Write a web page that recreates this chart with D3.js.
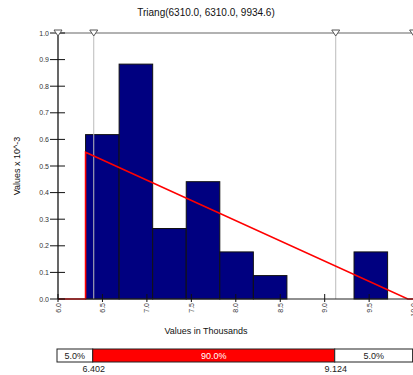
<!DOCTYPE html>
<html>
<head>
<meta charset="utf-8">
<script src="https://cdn.jsdelivr.net/npm/d3@7"></script>
<style>
  html, body { margin: 0; padding: 0; background: #fff; overflow: hidden; }
  svg { display: block; font-family: "Liberation Sans", Arial, sans-serif; }
</style>
</head>
<body>
<svg id="chart" width="413" height="375"></svg>
<script>
// Histogram of simulated values (in thousands) with fitted triangular density
const binStart = 6.31;
const binWidth = 0.3775;
const density = [0.618, 0.883, 0.265, 0.441, 0.177, 0.088, 0, 0, 0.177]; // x 10^-3
const triMin = 6.31, triMode = 6.31, triMax = 9.9346;
const xTicks = [6.0, 6.5, 7.0, 7.5, 8.0, 8.5, 9.0, 9.5, 10.0];
const yTicks = [0, 0.1, 0.2, 0.3, 0.4, 0.5, 0.6, 0.7, 0.8, 0.9, 1.0];
const limits = [6.402, 9.124];
const pctLabels = ["5.0%", "90.0%", "5.0%"];

const svg = d3.select("#chart");
const x = d3.scaleLinear().domain([6, 10]).range([58, 413.6]);
const y = d3.scaleLinear().domain([0, 1]).range([299, 33]);

// title
svg.append("text").attr("x", 206).attr("y", 16).attr("text-anchor", "middle")
  .attr("font-size", 10).attr("fill", "#111").text("Triang(6310.0, 6310.0, 9934.6)");

// top frame line
svg.append("line").attr("x1", x(6)).attr("x2", 413).attr("y1", y(1)).attr("y2", y(1))
  .attr("stroke", "#666").attr("stroke-width", 1.2);

// histogram bars
const bins = density.map((d, i) => ({ x0: binStart + i * binWidth, x1: binStart + (i + 1) * binWidth, v: d }));
svg.append("g").selectAll("rect").data(bins.filter(b => b.v > 0)).join("rect")
  .attr("x", b => x(b.x0)).attr("width", b => x(b.x1) - x(b.x0))
  .attr("y", b => y(b.v)).attr("height", b => y(0) - y(b.v))
  .attr("fill", "#000080").attr("stroke", "#111").attr("stroke-width", 1);

// percentile guide lines
svg.append("g").selectAll("line").data(limits).join("line")
  .attr("x1", d => x(d)).attr("x2", d => x(d)).attr("y1", y(1) + 3).attr("y2", y(0))
  .attr("stroke", "#bbb").attr("stroke-width", 1);

// triangular density curve
const peak = 2 / (triMax - triMin);
const curve = [[6.0, 0], [triMin, 0], [triMode, peak], [triMax, 0], [10, 0]];
svg.append("path").datum(curve)
  .attr("d", d3.line().x(d => x(d[0])).y(d => y(d[1])))
  .attr("fill", "none").attr("stroke", "#ff0000").attr("stroke-width", 1.6);

// axes lines
svg.append("line").attr("x1", x(6)).attr("x2", x(6)).attr("y1", y(1)).attr("y2", y(0))
  .attr("stroke", "#000").attr("stroke-width", 1.2);
svg.append("line").attr("x1", x(6)).attr("x2", 413).attr("y1", y(0)).attr("y2", y(0))
  .attr("stroke", "#222").attr("stroke-width", 1.2);

// y ticks and labels
const yg = svg.append("g");
yg.selectAll("line").data(yTicks).join("line")
  .attr("x1", 50).attr("x2", 65).attr("y1", d => y(d)).attr("y2", d => y(d))
  .attr("stroke", "#111").attr("stroke-width", 1);
yg.selectAll("text").data(yTicks).join("text")
  .attr("x", 49).attr("y", d => y(d) + 2.5).attr("text-anchor", "end")
  .attr("font-size", 7).attr("fill", "#333").text(d => d3.format(".1f")(d));

// x ticks and rotated labels
const xg = svg.append("g");
xg.selectAll("line").data(xTicks).join("line")
  .attr("x1", d => x(d)).attr("x2", d => x(d)).attr("y1", y(0) - 5).attr("y2", y(0) + 3)
  .attr("stroke", "#111").attr("stroke-width", 1);
xg.selectAll("text").data(xTicks).join("text")
  .attr("transform", d => `translate(${x(d) + 2.5},${y(0) + 4}) rotate(-90)`)
  .attr("text-anchor", "end").attr("font-size", 7).attr("fill", "#333")
  .text(d => d3.format(".1f")(d));

// limit markers on top line
const markers = [6.0, limits[0], limits[1], 10.0];
svg.append("g").selectAll("path").data(markers).join("path")
  .attr("d", d => `M${x(d) - 4},${y(1) - 3} L${x(d) + 4},${y(1) - 3} L${x(d)},${y(1) + 3} Z`)
  .attr("fill", "#fff").attr("stroke", "#555").attr("stroke-width", 1);

// axis titles
svg.append("text").attr("transform", "translate(20,166) rotate(-90)")
  .attr("text-anchor", "middle").attr("font-size", 9).attr("fill", "#111").text("Values x 10^-3");
svg.append("text").attr("x", 206).attr("y", 334).attr("text-anchor", "middle")
  .attr("font-size", 9).attr("fill", "#111").text("Values in Thousands");

// percentile band
const bandY = 349, bandH = 13;
const segs = [
  { a: 6.0, b: limits[0], fill: "#fff", col: "#222", label: pctLabels[0] },
  { a: limits[0], b: limits[1], fill: "#ff0000", col: "#fff", label: pctLabels[1] },
  { a: limits[1], b: 10.0, fill: "#fff", col: "#222", label: pctLabels[2] }
];
const band = svg.append("g");
band.selectAll("rect").data(segs).join("rect")
  .attr("x", d => x(d.a) - 1).attr("width", d => x(d.b) - x(d.a))
  .attr("y", bandY).attr("height", bandH)
  .attr("fill", d => d.fill).attr("stroke", "#222").attr("stroke-width", 1);
band.selectAll("text").data(segs).join("text")
  .attr("x", d => (x(d.a) + x(d.b)) / 2 - 1).attr("y", bandY + 10)
  .attr("text-anchor", "middle").attr("font-size", 9).attr("fill", d => d.col).text(d => d.label);
band.selectAll("text.lim").data(limits).join("text").attr("class", "lim")
  .attr("x", d => x(d)).attr("y", 372).attr("text-anchor", "middle")
  .attr("font-size", 9).attr("fill", "#222").text(d => d3.format(".3f")(d));
</script>
</body>
</html>
